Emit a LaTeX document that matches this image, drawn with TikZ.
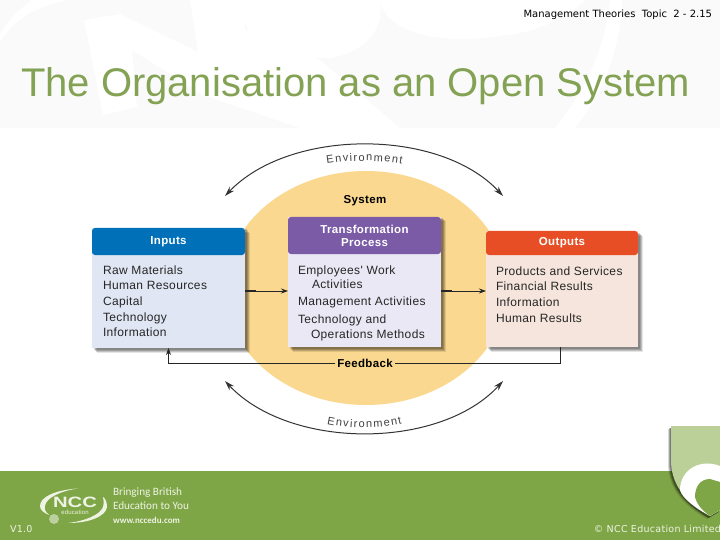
\documentclass[tikz,border=0pt]{standalone}
\usepackage{xcolor}
\usepackage{fontspec}
\setmainfont{Liberation Sans}
\newfontfamily\figfont[LetterSpace=3]{Liberation Sans}
\newfontfamily\footfont[LetterSpace=3]{DejaVu Sans}
\newfontfamily\headfont{DejaVu Sans}
\newfontfamily\logofont{Carlito}
\usetikzlibrary{shapes.geometric,positioning,shadows,arrows.meta,calc,decorations.text}
\definecolor{footgreen}{HTML}{7FA646}
\definecolor{titlegreen}{HTML}{84A254}
\definecolor{shieldgreen}{HTML}{BBCF99}
\definecolor{sysorange}{HTML}{FBD88F}
\definecolor{inhead}{HTML}{0070B8}
\definecolor{inbody}{HTML}{E0E6F3}
\definecolor{prochead}{HTML}{7B5AA6}
\definecolor{procbody}{HTML}{E9E8F4}
\definecolor{outhead}{HTML}{E84E25}
\definecolor{outbody}{HTML}{F5E5DC}
\definecolor{logotext}{HTML}{EEF3E4}

\begin{document}
\begin{tikzpicture}[x=1pt, y=-1pt, every node/.style={inner sep=0pt, outer sep=0pt}]
  \tikzset{
    softshadow/.style={
      drop shadow={shadow xshift=1.5pt, shadow yshift=-1.5pt, opacity=.16, fill=black},
      drop shadow={shadow xshift=2.5pt, shadow yshift=-2.5pt, opacity=.16, fill=black},
      drop shadow={shadow xshift=3.5pt, shadow yshift=-3.5pt, opacity=.16, fill=black},
      drop shadow={shadow xshift=4.5pt, shadow yshift=-4.5pt, opacity=.1, fill=black}},
    bodybox/.style={rectangle, minimum width=153pt, anchor=north west, softshadow},
    headbox/.style={rectangle, rounded corners=3pt, minimum width=153pt, align=center, text=white,
      font=\figfont\fontsize{11.5}{13}\selectfont\bfseries},
    listtext/.style={anchor=north west, align=left, text=black!85, font=\figfont\fontsize{12}{15.7}\selectfont},
    boldlabel/.style={font=\figfont\fontsize{11.5}{13}\selectfont\bfseries},
    footertext/.style={text=logotext, font=\footfont\fontsize{9.5}{11}\selectfont},
    logoline/.style={anchor=west, text=logotext},
    flow/.style={-{Stealth[length=7pt,width=5pt]}, line width=.8pt, black!85},
    flowstub/.style={line width=2.5pt, black!85},
    feedback/.style={line width=.8pt, black!85},
    envarc/.style={{Stealth[length=10pt,width=6pt]}-{Stealth[length=10pt,width=6pt]}, line width=1pt, black!80},
    envlabel/.style={decorate, decoration={text along path, text align={fit to path},
      text={|\figfont\fontsize{11}{13}\selectfont\color{black!75}|Environment}}}
  }
  \useasboundingbox (0,0) rectangle (720,540);

  % page and watermark
  \fill[white] (0,0) rectangle (720,540);
  \fill[black!2] (0,0) rectangle (720,128);
  \fill[white] (84,20) -- (103,115) -- (137,107) -- (132,50) -- (203,95) -- (300,128) -- (400,128) -- (320,60) -- (245,30) -- (245,0) -- (190,0) -- (198,52) -- (120,14) -- cycle;
  \fill[white] (380,0) .. controls (385,35) and (450,50) .. (533,30) .. controls (560,20) and (575,10) .. (585,0) -- cycle;
  \fill[white] (245,0) .. controls (240,40) and (260,60) .. (330,58) .. controls (365,52) and (385,30) .. (380,0) -- cycle;
  \fill[white] (610,0) .. controls (605,50) and (585,90) .. (555,128) -- (575,128) .. controls (605,90) and (620,50) .. (622,0) -- cycle;
  \fill[white] (32,0) .. controls (15,12) and (5,25) .. (0,35) -- (0,42) .. controls (12,22) and (30,8) .. (68,0) -- cycle;
  \fill[white] (0,128) rectangle (720,471);

  % footer band
  \fill[footgreen] (0,471) rectangle (720,540);

  % shield
  \coordinate (shielda) at (671,426);
  \path[fill=shieldgreen, drop shadow={shadow xshift=-1pt, shadow yshift=-2pt, opacity=.25, fill=black},
      drop shadow={shadow xshift=-2pt, shadow yshift=-2pt, opacity=.25, fill=black},
      drop shadow={shadow xshift=-3pt, shadow yshift=-3pt, opacity=.15, fill=black}]
    (shielda) -- (720,426) -- (720,510) -- (710,516) .. controls (692,505) and (671,490) .. (671,460) -- cycle;
  \path[fill=white] (720,466) .. controls (700,458) and (680,470) .. (680,490) .. controls (682,498) and (695,508) .. (710,516) -- (720,510) -- cycle;
  \path[fill=footgreen] (710,479) .. controls (700,479) and (695,487) .. (695,497) .. controls (697,505) and (703,511) .. (710,516) -- (720,510) -- (720,482) -- cycle;

  % titles
  \node[anchor=base west, text=titlegreen, font=\fontsize{40}{48}\selectfont] (title) at (21,97) {The Organisation as an Open System};
  \node[anchor=base east, font=\headfont\fontsize{10}{11}\selectfont] (topic) at (712,18) {Management Theories\ \ Topic\ \ 2 - 2.15};

  % system
  \node[ellipse, minimum width=282pt, minimum height=234pt, fill=sysorange] (system) at (366,288) {};
  \node[boldlabel] (syslabel) at (365,201) {System};

  % boxes
  \node[bodybox, fill=inbody, minimum height=120pt] (inputs) at (92,228) {};
  \node[headbox, fill=inhead, minimum height=27pt, below=0pt of inputs.north] (inputshead) {Inputs};
  \node[bodybox, fill=procbody, minimum height=130pt] (process) at (288,217) {};
  \node[headbox, fill=prochead, minimum height=37pt, below=0pt of process.north] (processhead) {Transformation\\Process};
  \node[bodybox, fill=outbody, minimum height=116pt, minimum width=152pt] (outputs) at (486,231) {};
  \node[headbox, fill=outhead, minimum height=24pt, minimum width=152pt, below=0pt of outputs.north] (outputshead) {Outputs};

  % lists
  \node[listtext] (inputslist) at (103,265.5) {Raw Materials\\Human Resources\\Capital\\Technology\\Information};
  \node[listtext] (processlist) at (298,265.5) {Employees' Work\\[-1.7pt]\hspace*{14pt}Activities\\[1.3pt]Management Activities\\[2.3pt]Technology and\\[-.7pt]\hspace*{13pt}Operations Methods};
  \node[listtext] (outputslist) at (496,266.5) {Products and Services\\Financial Results\\Information\\Human Results};

  % flow arrows
  \coordinate (flowline) at (0,291);
  \draw[flowstub] (inputs.east |- flowline) -- ++(11,0);
  \draw[flow] (inputs.east |- flowline) -- (process.west |- flowline);
  \draw[flowstub] (process.east |- flowline) -- ++(11,0);
  \draw[flow] (process.east |- flowline) -- (outputs.west |- flowline);

  % feedback
  \node[boldlabel, inner sep=2pt] (feedbacklabel) at (365,363) {Feedback};
  \draw[feedback] ([xshift=-2pt]outputs.south) |- (feedbacklabel.east);
  \draw[flow] (feedbacklabel.west) -| (inputs.south);

  % environment
  \coordinate (envtl) at (225,196);
  \coordinate (envtr) at (503,196);
  \coordinate (envbl) at (225,381);
  \coordinate (envbr) at (503,381);
  \draw[envarc] (envtl) .. controls (290,128) and (440,128) .. (envtr);
  \draw[envarc] (envbl) .. controls (290,450) and (440,450) .. (envbr);
  \coordinate (labtl) at (327,164);
  \coordinate (labtr) at (402,164);
  \coordinate (labbl) at (327,424);
  \coordinate (labbr) at (402,424);
  \path[envlabel] (labtl) .. controls (350,160) and (380,160) .. (labtr);
  \path[envlabel] (labbl) .. controls (350,429) and (380,429) .. (labbr);

  % logo
  \fill[logotext] (78,488.5) .. controls (55,490) and (40,497) .. (40,506) .. controls (40,510) and (44,513) .. (49,515) .. controls (46,512) and (44,510) .. (45,506) .. controls (46,498) and (60,491) .. (78,488.5) -- cycle;
  \fill[logotext] (103,497) .. controls (106,499) and (107,503) .. (107,507) .. controls (106,516) and (90,523) .. (68,523) .. controls (85,521) and (100,515) .. (103,507) .. controls (104,503) and (104,500) .. (103,497) -- cycle;
  \node[text=logotext, font=\fontsize{15}{17}\selectfont\bfseries] (ncc) at (75,502) {\scalebox{1.35}[1]{NCC}};
  \node[text=logotext, font=\figfont\fontsize{6}{7}\selectfont, below=3pt of ncc] (nccsub) {education};
  \node[circle, fill=logotext!55!footgreen, minimum size=10pt] (globe) at (54,519) {};
  \node[logoline, font=\logofont\fontsize{11.2}{13}\selectfont] (brand1) at (113,493) {Bringing British};
  \node[logoline, font=\logofont\fontsize{11.2}{13}\selectfont] (brand2) at (113,506) {Education to You};
  \node[logoline, font=\logofont\fontsize{9}{10}\selectfont\bfseries] (brand3) at (113,520) {www.nccedu.com};

  % footer text
  \node[footertext, anchor=west] (version) at (10,529) {V1.0};
  \node[footertext, anchor=east] (copyright) at (721,529) {© NCC Education Limited};
\end{tikzpicture}
\end{document}
